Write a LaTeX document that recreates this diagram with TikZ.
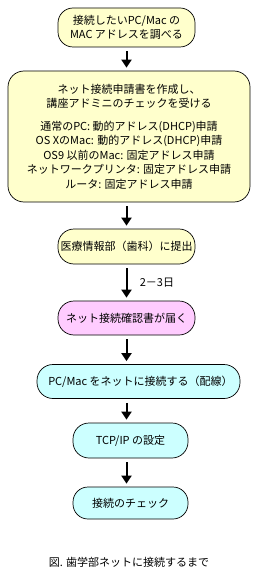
\documentclass[tikz,border=0pt]{standalone}
\usepackage{fontspec}
\usepackage{xcolor}
\usepackage{tikz}
\usetikzlibrary{arrows.meta,positioning}
\newfontfamily\jpfont{Noto Sans CJK JP}
\definecolor{stepyellow}{RGB}{255,255,204}
\definecolor{steppink}{RGB}{255,204,255}
\definecolor{stepcyan}{RGB}{204,255,255}
\tikzset{
  ybox/.style={draw=black, line width=0.7pt, fill=stepyellow, inner sep=2pt, align=center},
  pbox/.style={draw=black, line width=0.7pt, fill=steppink, inner sep=2pt, align=center},
  cbox/.style={draw=black, line width=0.7pt, fill=stepcyan, inner sep=2pt, align=center},
  arr/.style={-{Triangle[width=10pt,length=8pt]}, line width=2pt, shorten <=4pt, shorten >=3pt},
}

\begin{document}
\begin{tikzpicture}[x=1pt, y=-1pt, font=\jpfont\fontsize{11}{14.5}\selectfont]
  \useasboundingbox (0,0) rectangle (260,580);
  \node[ybox, minimum width=137pt, minimum height=39pt, rounded corners=15pt] (addr) at (126.5,27.5)
    {接続したいPC/Mac の\\MAC アドレスを調べる};
  \node[ybox, minimum width=242pt, minimum height=131pt, rounded corners=16pt] (form) at (129,136.5)
    {ネット接続申請書を作成し、\\講座アドミニのチェックを受ける\\[8pt]
     通常のPC: 動的アドレス(DHCP)申請\\
     OS XのMac: 動的アドレス(DHCP)申請\\
     OS9 以前のMac: 固定アドレス申請\\
     ネットワークプリンタ: 固定アドレス申請\\
     ルータ: 固定アドレス申請};
  \node[ybox, minimum width=137pt, minimum height=35pt, rounded corners=16pt] (submit) at (126.5,246.5)
    {医療情報部（歯科）に提出};
  \node[pbox, minimum width=137pt, minimum height=34pt, rounded corners=16pt] (notice) at (126.5,318)
    {ネット接続確認書が届く};
  \node[cbox, minimum width=203pt, minimum height=34pt, rounded corners=16pt] (wire) at (138.5,381.5)
    {\hspace*{4pt}PC/Mac をネットに接続する（配線）};
  \node[cbox, minimum width=115pt, minimum height=35pt, rounded corners=16pt] (tcpip) at (130.5,440.5)
    {TCP/IP の設定};
  \node[cbox, minimum width=115pt, minimum height=32pt, rounded corners=15pt] (check) at (130.5,503)
    {接続のチェック};

  \draw[arr] (addr.south) -- (addr.south |- form.north);
  \draw[arr] (form.south -| addr.south) -- (addr.south |- submit.north);
  \draw[arr] (submit.south) -- node[right=9pt] {2－3日} (notice.north);
  \draw[arr] (notice.south) -- (notice.south |- wire.north);
  \draw[arr] (wire.south -| notice.south) -- (notice.south |- tcpip.north);
  \draw[arr] (tcpip.south -| notice.south) -- (notice.south |- check.north);

  \node (caption) at (129,562) {図. 歯学部ネットに接続するまで};
\end{tikzpicture}
\end{document}
